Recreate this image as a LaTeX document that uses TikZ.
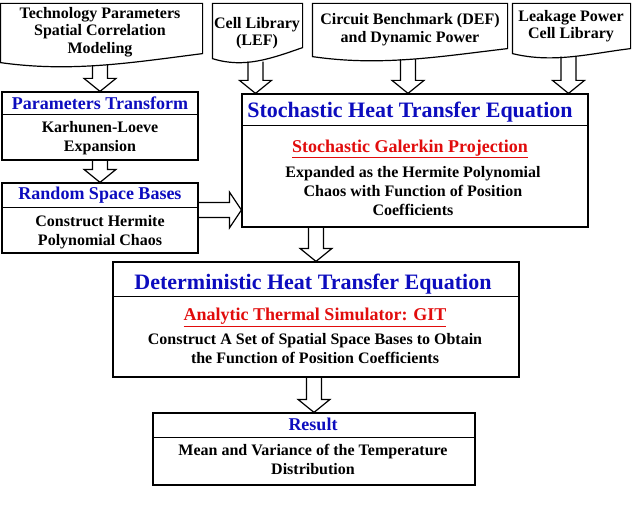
\documentclass[tikz,border=0pt]{standalone}
\usepackage{fontspec}
\setmainfont{Liberation Serif}
\usetikzlibrary{calc,positioning}
\definecolor{ttlblue}{RGB}{12,12,190}
\definecolor{subred}{RGB}{225,12,12}

\begin{document}
\begin{tikzpicture}[x=1pt, y=-1pt, line width=1.2pt,
  every node/.style={align=center, inner sep=0pt, font=\bfseries\fontsize{16}{17.5}\selectfont},
  frame/.style={draw, rectangle},
  doc/.style={rectangle},
  bigtitle/.style={text=ttlblue, font=\bfseries\fontsize{22}{24}\selectfont},
  smalltitle/.style={text=ttlblue, font=\bfseries\fontsize{18}{20}\selectfont},
  redtitle/.style={text=subred, font=\bfseries\fontsize{18}{20}\selectfont},
  bodytxt/.style={font=\bfseries\fontsize{16}{19}\selectfont},
  fatdown/.style={draw, to path={let \p1=(\tikztostart), \p2=(\tikztotarget) in
    (\x1-7.5pt,\y1) -- (\x1-7.5pt,\y2+13pt) -- (\x1-16pt,\y2+13pt) -- (\x1,\y2)
    -- (\x1+16pt,\y2+13pt) -- (\x1+7.5pt,\y2+13pt) -- (\x1+7.5pt,\y1)}},
  fatright/.style={draw, to path={let \p1=(\tikztostart), \p2=(\tikztotarget) in
    (\x1,\y1-7.5pt) -- (\x2-12pt,\y1-7.5pt) -- (\x2-12pt,\y1-18pt) -- (\x2,\y1)
    -- (\x2-12pt,\y1+18pt) -- (\x2-12pt,\y1+7.5pt) -- (\x1,\y1+7.5pt)}}]
\useasboundingbox (0,0) rectangle (635,511);

% input documents
\node[doc, minimum width=201pt, minimum height=58pt] (tech) at (101.5,33) {};
\node[doc, minimum width=89pt, minimum height=54pt] (cell) at (257.5,31) {};
\node[doc, minimum width=194pt, minimum height=52pt] (bench) at (410,30) {};
\node[doc, minimum width=117pt, minimum height=49pt] (leak) at (571.5,28.5) {};
\foreach \d/\r in {tech/9,cell/11,bench/8,leak/5}
  \draw (\d.south west) -- (\d.north west) -- (\d.north east) -- ([yshift=\r pt]\d.south east)
    .. controls ($(\d.south east)!0.35!(\d.south west)$) and ($(\d.south east)!0.65!(\d.south west)+(0,10)$) .. (\d.south west) -- cycle;
\node (techtxt) at (100,32) {Technology Parameters\\Spatial Correlation\\Modeling};
\node (celltxt) at (257,33) {Cell Library\\(LEF)};
\node (benchtxt) at (410,29.5) {Circuit Benchmark (DEF)\\and Dynamic Power};
\node (leaktxt) at (571,26) {Leakage Power\\Cell Library};

% left column
\node[frame, minimum width=196pt, minimum height=68pt] (ptrans) at (100,126) {};
\draw (ptrans.north west) ++(0,23) -- ++(196,0);
\node[smalltitle] (ptranstitle) at (100,103.5) {Parameters Transform};
\node[bodytxt] (ptransbody) at (100,138.5) {Karhunen-Loeve\\Expansion};

\node[frame, minimum width=196pt, minimum height=70pt] (rsb) at (100,218) {};
\draw (rsb.north west) ++(0,25) -- ++(196,0);
\node[smalltitle] (rsbtitle) at (100,195.5) {Random Space Bases};
\node[bodytxt] (rsbbody) at (100,232) {Construct Hermite\\Polynomial Chaos};

% stochastic equation
\node[frame, minimum width=346pt, minimum height=133pt] (sto) at (415,160.5) {};
\draw (sto.north west) ++(0,32) -- ++(346,0);
\node[bigtitle] (stotitle) at (410,112.5) {Stochastic Heat Transfer Equation};
\node[redtitle] (stored) at (410,149) {\underline{Stochastic Galerkin Projection}};
\node[bodytxt] (stobody) at (413,191) {Expanded as the Hermite Polynomial\\Chaos with Function of Position\\Coefficients};

% deterministic equation
\node[frame, minimum width=406pt, minimum height=115pt] (det) at (316,319.5) {};
\draw (det.north west) ++(0,35) -- ++(406,0);
\node[bigtitle] (dettitle) at (313,284) {Deterministic Heat Transfer Equation};
\node[redtitle] (detred) at (315,317.5) {\underline{Analytic Thermal Simulator: GIT}};
\node[bodytxt] (detbody) at (315,348.5) {Construct A Set of Spatial Space Bases to Obtain\\the Function of Position Coefficients};

% result
\node[frame, minimum width=322pt, minimum height=72pt] (res) at (314,449) {};
\draw (res.north west) ++(0,25) -- ++(322,0);
\node[smalltitle] (restitle) at (313,424.5) {Result};
\node[bodytxt] (resbody) at (313,459.5) {Mean and Variance of the Temperature\\Distribution};

% block arrows
\draw[fatdown] ([yshift=-2.5pt]tech.south -| ptrans.north) to (ptrans.north);
\draw[fatdown] (ptrans.south) to (rsb.north);
\draw[fatdown] ([xshift=-2pt,yshift=-3pt]cell.south) to (sto.north);
\draw[fatdown] ([xshift=-2pt,yshift=-2.5pt]bench.south) to (sto.north);
\draw[fatdown] ([xshift=-3pt,yshift=-3pt]leak.south) to (sto.north);
\draw[fatright] ([yshift=8pt]rsb.east) to (sto.west);
\draw[fatdown] (sto.south -| det.north) to (det.north);
\draw[fatdown] (det.south -| res.north) to (res.north);
\end{tikzpicture}
\end{document}
